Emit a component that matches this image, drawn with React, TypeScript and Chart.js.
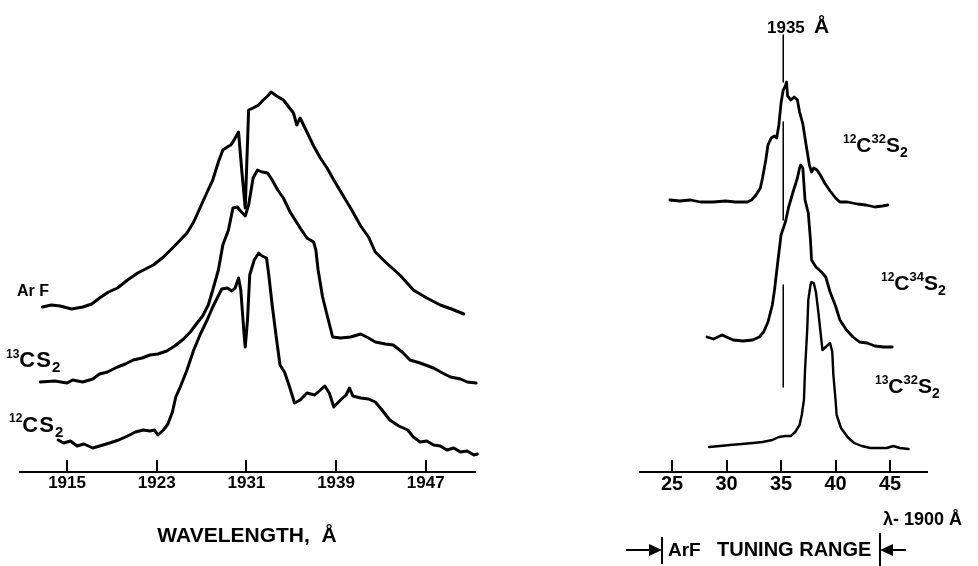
import React, { useEffect, useRef } from "react";
import { Chart, registerables } from "chart.js";
Chart.register(...registerables);

// ---------- Left panel: wavelength (Å) vs relative intensity (a.u., traces offset) ----------
const leftTicks = [1915, 1923, 1931, 1939, 1947];

const arfWl = [1912.8, 1913.6, 1914.4, 1915.4, 1916.4, 1917.2, 1917.9, 1918.7, 1919.5, 1920.4, 1921.3, 1922.0, 1922.7, 1923.6, 1924.5, 1925.1, 1925.7, 1926.3, 1926.9, 1927.5, 1928.0, 1928.5, 1928.9, 1929.3, 1929.6, 1929.8, 1930.3, 1930.6, 1930.9, 1931.2, 1931.6, 1932.1, 1932.5, 1932.9, 1933.2, 1933.7, 1934.3, 1935.2, 1935.5, 1935.8, 1936.4, 1937.0, 1937.6, 1938.2, 1938.9, 1939.6, 1940.4, 1941.2, 1941.9, 1942.5, 1943.4, 1944.7, 1945.9, 1947.1, 1948.3, 1949.3, 1950.4];
const arfI = [165, 167, 166, 163, 165, 168, 174, 180, 184, 192, 199, 203, 207, 215, 225, 232, 239, 250, 265, 280, 292, 310, 322, 325, 327, 330, 340, 300, 264, 362, 364, 367, 372, 376, 380, 376, 372, 359, 347, 354, 340, 326, 314, 304, 290, 277, 262, 246, 235, 220, 210, 197, 182, 174, 167, 163, 158];

const c13Wl = [1912.6, 1913.9, 1915.0, 1915.5, 1916.4, 1917.3, 1917.9, 1918.6, 1919.5, 1920.2, 1920.9, 1921.7, 1922.4, 1923.1, 1923.9, 1924.6, 1925.4, 1926.0, 1926.6, 1927.1, 1927.6, 1928.0, 1928.5, 1928.9, 1929.4, 1929.8, 1930.2, 1930.4, 1930.9, 1931.2, 1931.6, 1932.0, 1932.4, 1932.9, 1933.3, 1933.8, 1934.3, 1934.9, 1935.8, 1936.4, 1937.0, 1937.2, 1937.4, 1937.8, 1938.2, 1938.7, 1939.4, 1940.3, 1941.2, 1941.9, 1942.5, 1943.4, 1944.1, 1944.9, 1945.6, 1946.5, 1947.7, 1948.5, 1949.2, 1950.1, 1950.7, 1951.5, 1952.3];
const c13I = [90, 91, 89, 92, 90, 93, 98, 100, 105, 108, 112, 114, 117, 118, 121, 126, 133, 140, 149, 156, 167, 182, 202, 227, 242, 264, 265, 262, 256, 267, 294, 302, 300, 299, 292, 282, 274, 260, 244, 234, 230, 222, 202, 175, 157, 135, 134, 135, 138, 134, 130, 128, 127, 120, 112, 109, 104, 99, 95, 93, 90, 89, 85];

const c12Wl = [1914.2, 1914.7, 1915.3, 1915.9, 1916.5, 1917.3, 1917.9, 1918.8, 1919.6, 1920.4, 1921.1, 1921.8, 1922.4, 1922.8, 1923.1, 1923.6, 1924.0, 1924.4, 1924.7, 1925.1, 1925.7, 1926.3, 1926.9, 1927.5, 1928.0, 1928.4, 1928.8, 1929.3, 1929.7, 1930.0, 1930.3, 1930.5, 1930.8, 1930.9, 1931.1, 1931.3, 1931.7, 1932.1, 1932.4, 1932.8, 1933.0, 1933.3, 1933.7, 1934.0, 1934.4, 1934.8, 1935.3, 1935.8, 1936.4, 1937.1, 1937.6, 1938.0, 1938.4, 1938.8, 1939.4, 1939.9, 1940.2, 1940.5, 1941.2, 1941.9, 1942.5, 1943.1, 1943.8, 1944.6, 1945.4, 1945.9, 1946.5, 1947.1, 1947.7, 1948.3, 1948.9, 1949.5, 1950.1, 1950.7, 1951.3, 1951.6];
const c12I = [32, 29, 31, 26, 28, 24, 26, 29, 32, 36, 40, 42, 41, 42, 37, 42, 48, 60, 75, 85, 102, 122, 138, 152, 165, 174, 183, 184, 181, 184, 194, 182, 137, 125, 152, 197, 212, 219, 216, 214, 197, 167, 132, 107, 100, 87, 69, 72, 79, 77, 82, 86, 79, 65, 72, 77, 84, 76, 74, 73, 70, 62, 52, 46, 42, 35, 30, 31, 27, 26, 22, 24, 20, 21, 17, 18];

// ---------- Right panel: λ - 1900 Å ----------
const rightTicks = [25, 30, 35, 40, 45];

const t32Wl = [24.8, 25.7, 26.7, 27.6, 28.8, 29.9, 30.8, 31.9, 32.3, 32.7, 33.1, 33.3, 33.6, 33.8, 34.1, 34.4, 34.6, 34.8, 35.0, 35.2, 35.4, 35.5, 35.6, 35.9, 36.2, 36.5, 36.7, 37.0, 37.3, 37.6, 37.8, 38.0, 38.3, 38.6, 39.0, 39.5, 40.0, 40.4, 41.1, 42.0, 42.8, 43.6, 44.3, 44.8];
const t32I = [272, 271, 272, 270, 270, 271, 270, 270, 272, 277, 284, 294, 312, 327, 334, 336, 334, 347, 369, 382, 386, 390, 376, 372, 375, 372, 360, 348, 327, 307, 300, 304, 302, 297, 289, 281, 274, 270, 270, 268, 267, 265, 266, 267];

const m34Wl = [28.2, 28.8, 29.2, 29.6, 30.0, 30.6, 31.5, 32.4, 33.0, 33.4, 33.8, 34.2, 34.4, 34.7, 35.0, 35.4, 35.7, 36.1, 36.5, 36.7, 36.8, 37.0, 37.2, 37.5, 37.7, 37.8, 38.2, 38.7, 39.1, 39.5, 40.0, 40.4, 41.0, 41.6, 42.2, 42.9, 43.6, 44.4, 45.2];
const m34I = [135, 133, 135, 137, 135, 132, 131, 132, 135, 140, 150, 167, 182, 210, 237, 250, 265, 280, 294, 304, 307, 304, 272, 259, 232, 212, 205, 200, 195, 180, 166, 152, 142, 135, 130, 129, 126, 125, 125];

const b32Wl = [28.4, 29.4, 30.3, 31.4, 32.4, 33.3, 34.2, 34.8, 35.4, 35.9, 36.3, 36.7, 36.9, 37.1, 37.2, 37.4, 37.5, 37.7, 37.8, 38.0, 38.2, 38.4, 38.6, 38.8, 39.0, 39.3, 39.5, 39.7, 39.8, 40.0, 40.1, 40.5, 41.1, 41.7, 42.4, 43.2, 44.1, 44.7, 45.3, 45.9, 46.7];
const b32I = [25, 26, 27, 28, 29, 30, 32, 35, 36, 36, 40, 47, 57, 72, 102, 142, 172, 187, 190, 189, 180, 162, 142, 122, 124, 127, 129, 120, 97, 72, 57, 44, 35, 29, 26, 24, 24, 24, 26, 24, 23];

const markerLambda = 35.2;
const markerSegments = [[437, 390], [350, 252], [187, 85]];
const tuningRange = [24.1, 44.1];

// ---------- helpers ----------
const FONT = '"Liberation Sans", Arial, sans-serif';
const mk = (xs: number[], ys: number[]) => xs.map((x, i) => ({ x, y: ys[i] }));

type Seg = { t: string; size: number; dy?: number; ls?: number };
function drawSegs(ctx: CanvasRenderingContext2D, x: number, y: number, segs: Seg[]) {
  let cx = x;
  ctx.textAlign = "left";
  ctx.textBaseline = "alphabetic";
  for (const s of segs) {
    ctx.font = `bold ${s.size}px ${FONT}`;
    (ctx as any).letterSpacing = `${s.ls ?? 0}px`;
    ctx.fillText(s.t, cx, y + (s.dy ?? 0));
    cx += ctx.measureText(s.t).width;
  }
  (ctx as any).letterSpacing = "0px";
}

function drawTickMarks(chart: any, len: number) {
  const s = chart.scales.x;
  const ctx = chart.ctx as CanvasRenderingContext2D;
  ctx.save();
  ctx.strokeStyle = "#000";
  ctx.lineWidth = 2;
  for (const t of s.ticks) {
    const px = Math.round(s.getPixelForValue(t.value));
    ctx.beginPath();
    ctx.moveTo(px, s.top);
    ctx.lineTo(px, s.top - len);
    ctx.stroke();
  }
  ctx.restore();
}

function makeOptions(xMin: number, xMax: number, ticks: number[], fontSize: number, padLeft: number, padRight: number, tickPad: number) {
  return {
    responsive: false,
    animation: false,
    devicePixelRatio: 1,
    layout: { padding: { left: padLeft, right: padRight, top: 22, bottom: 0 } },
    plugins: { legend: { display: false }, tooltip: { enabled: false } },
    elements: {
      point: { radius: 0 },
      line: { tension: 0, borderCapStyle: "round", borderJoinStyle: "round" },
    },
    scales: {
      x: {
        type: "linear",
        min: xMin,
        max: xMax,
        afterBuildTicks: (s: any) => {
          s.ticks = ticks.map((v) => ({ value: v }));
        },
        afterFit: (s: any) => {
          s.height = 94;
        },
        grid: { display: false, drawTicks: false },
        border: { display: true, color: "#000", width: 2 },
        ticks: {
          color: "#000",
          padding: tickPad,
          autoSkip: false,
          maxRotation: 0,
          font: { family: FONT, size: fontSize, weight: "bold" },
          callback: (v: any) => String(v),
        },
      },
      y: { display: false, min: 0, max: 450 },
    },
  };
}

const line = (data: any[], w: number) => ({
  data,
  borderColor: "#000",
  borderWidth: w,
  pointRadius: 0,
  fill: false,
  clip: false,
});

export default function App() {
  const leftRef = useRef<HTMLCanvasElement>(null);
  const rightRef = useRef<HTMLCanvasElement>(null);

  useEffect(() => {
    const leftDeco = {
      id: "leftDeco",
      afterDraw(chart: any) {
        drawTickMarks(chart, 12);
        const ctx = chart.ctx as CanvasRenderingContext2D;
        ctx.save();
        ctx.fillStyle = "#000";
        drawSegs(ctx, 17, 296, [{ t: "Ar F", size: 16 }]);
        drawSegs(ctx, 6, 367, [
          { t: "13", size: 12, dy: -9 },
          { t: "CS", size: 22, ls: 1 },
          { t: "2", size: 15, dy: 5 },
        ]);
        drawSegs(ctx, 9, 432, [
          { t: "12", size: 12, dy: -10 },
          { t: "CS", size: 22, ls: 1 },
          { t: "2", size: 15, dy: 5 },
        ]);
        ctx.font = `bold 21px ${FONT}`;
        ctx.textAlign = "center";
        ctx.fillText("WAVELENGTH,  Å", 247, 542);
        ctx.restore();
      },
    };

    const rightDeco = {
      id: "rightDeco",
      afterDraw(chart: any) {
        drawTickMarks(chart, 12);
        const ctx = chart.ctx as CanvasRenderingContext2D;
        const s = chart.scales.x;
        ctx.save();
        ctx.fillStyle = "#000";
        ctx.strokeStyle = "#000";
        drawSegs(ctx, 167, 33, [{ t: "1935", size: 17 }]);
        drawSegs(ctx, 214, 33, [{ t: "Å", size: 21 }]);
        const iso = (x: number, y: number, a: string, b: string) =>
          drawSegs(ctx, x, y, [
            { t: a, size: 12, dy: -9 },
            { t: "C", size: 21 },
            { t: b, size: 13, dy: -9 },
            { t: "S", size: 21 },
            { t: "2", size: 14, dy: 5 },
          ]);
        iso(243, 152, "12", "32");
        iso(281, 290, "12", "34");
        iso(275, 393, "13", "32");
        drawSegs(ctx, 283, 525, [{ t: "λ- 1900 Å", size: 18 }]);
        drawSegs(ctx, 68, 556, [{ t: "ArF", size: 19 }]);
        drawSegs(ctx, 117, 556, [{ t: "TUNING RANGE", size: 20 }]);

        // tuning range arrows
        const xl = Math.round(s.getPixelForValue(tuningRange[0]));
        const xr = Math.round(s.getPixelForValue(tuningRange[1]));
        const ay = 550;
        ctx.lineWidth = 2;
        ctx.beginPath();
        ctx.moveTo(xl, 537);
        ctx.lineTo(xl, 564);
        ctx.moveTo(xr, 533);
        ctx.lineTo(xr, 566);
        ctx.moveTo(xl - 36, ay);
        ctx.lineTo(xl - 8, ay);
        ctx.moveTo(xr + 8, ay);
        ctx.lineTo(xr + 26, ay);
        ctx.stroke();
        ctx.beginPath();
        ctx.moveTo(xl, ay);
        ctx.lineTo(xl - 13, ay - 6);
        ctx.lineTo(xl - 13, ay + 6);
        ctx.closePath();
        ctx.moveTo(xr, ay);
        ctx.lineTo(xr + 13, ay - 6);
        ctx.lineTo(xr + 13, ay + 6);
        ctx.closePath();
        ctx.fill();
        ctx.restore();
      },
    };

    const left = new Chart(leftRef.current as HTMLCanvasElement, {
      type: "line",
      data: {
        datasets: [
          line(mk(arfWl, arfI), 3),
          line(mk(c13Wl, c13I), 3),
          line(mk(c12Wl, c12I), 3),
        ],
      },
      options: makeOptions(1910.8, 1951.4, leftTicks, 17, 20, 25, 1) as any,
      plugins: [leftDeco],
    });

    const markerSets = markerSegments.map((seg) =>
      line([{ x: markerLambda, y: seg[0] }, { x: markerLambda, y: seg[1] }], 1.5)
    );

    const right = new Chart(rightRef.current as HTMLCanvasElement, {
      type: "line",
      data: {
        datasets: [
          line(mk(t32Wl, t32I), 2.8),
          line(mk(m34Wl, m34I), 2.8),
          line(mk(b32Wl, b32I), 2.4),
          ...markerSets,
        ],
      },
      options: makeOptions(22.06, 48.39, rightTicks, 20, 40, 51, 0) as any,
      plugins: [rightDeco],
    });

    return () => {
      left.destroy();
      right.destroy();
    };
  }, []);

  return (
    <div
      style={{
        position: "fixed",
        left: 0,
        top: 0,
        width: 978,
        height: 566,
        background: "#fff",
        overflow: "hidden",
      }}
    >
      <canvas
        ref={leftRef}
        width={500}
        height={566}
        style={{ position: "absolute", left: 0, top: 0, width: 500, height: 566 }}
      />
      <canvas
        ref={rightRef}
        width={378}
        height={566}
        style={{ position: "absolute", left: 600, top: 0, width: 378, height: 566 }}
      />
    </div>
  );
}
